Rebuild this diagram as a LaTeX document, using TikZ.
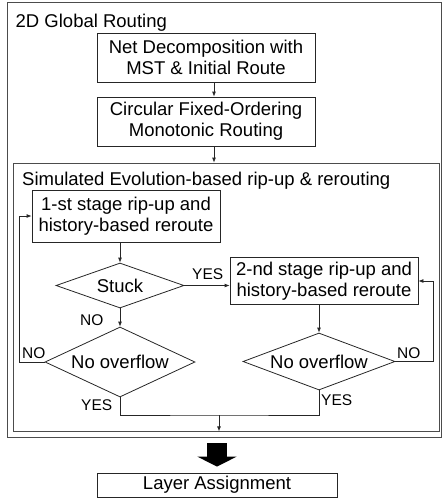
\documentclass[tikz,border=0pt]{standalone}
\usepackage{fontspec}
\setmainfont{Liberation Sans}
\usetikzlibrary{shapes.geometric,arrows.meta}

\tikzset{
  box/.style={draw=black!85, line width=0.8pt, inner sep=0pt, align=center,
    font=\fontsize{18.5}{21}\selectfont},
  decision/.style={diamond, draw=black!85, line width=0.8pt, inner sep=0pt,
    font=\fontsize{18.5}{21}\selectfont},
  frame/.style={draw=black!70, line width=0.8pt, inner sep=0pt},
  heading/.style={inner sep=0pt, anchor=base west, font=\fontsize{18.5}{21}\selectfont},
  lbl/.style={inner sep=0pt, anchor=base west, font=\fontsize{15.5}{18}\selectfont},
  arr/.style={draw=black!85, line width=0.8pt, -{Latex[length=5pt,width=4pt]}},
  line/.style={draw=black!85, line width=0.8pt},
  bigarr/.style={line width=20pt, -{Triangle[length=10pt,width=39pt]}}
}

\begin{document}
\begin{tikzpicture}[x=1pt,y=-1pt]
  \useasboundingbox (0,0) rectangle (442,499);

  % frames
  \node[frame, minimum width=434.5pt, minimum height=435pt] (outer) at (224.25,219.5) {};
  \node[frame, minimum width=426.5pt, minimum height=268pt] (inner) at (226.25,297) {};
  \node[heading] (gtitle) at (15.5,27) {2D Global Routing};
  \node[heading] (stitle) at (22,185) {Simulated Evolution-based rip-up \& rerouting};

  % upper flow
  \node[box, minimum width=218pt, minimum height=49pt] (decomp) at (206,57.5)
    {Net Decomposition with\\MST \& Initial Route};
  \node[box, minimum width=218pt, minimum height=49pt] (circ) at (206,121.5)
    {Circular Fixed-Ordering\\Monotonic Routing};
  \draw[arr] ([xshift=8pt]decomp.south) -- ([xshift=8pt]circ.north);
  \draw[arr] ([xshift=8pt]circ.south) -- ([xshift=8pt]circ.south |- inner.north);

  % rip-up and reroute
  \node[box, minimum width=188pt, minimum height=52pt] (first) at (126,216)
    {1-st stage rip-up and\\history-based reroute};
  \node[box, minimum width=188pt, minimum height=47pt] (second) at (324,281)
    {2-nd stage rip-up and\\history-based reroute};
  \node[decision, aspect=2.84, minimum width=128pt, minimum height=45pt] (stuck) at (120,285.5) {Stuck};
  \node[decision, aspect=2.14, minimum width=150pt, minimum height=70pt] (ovfA) at (120,362) {No overflow};
  \node[decision, aspect=2.67, minimum width=152pt, minimum height=57pt] (ovfB) at (319,361.5) {No overflow};

  \draw[arr] (stuck.north |- first.south) -- (stuck.north);
  \draw[arr] (stuck.east) -- (stuck.east -| second.west);
  \draw[arr] (stuck.south) -- (ovfA.north);
  \draw[arr] (ovfB.north |- second.south) -- (ovfB.north);
  \draw[arr] (ovfA.west) -- ++(-25,0) |- (first.west);
  \draw[arr] (ovfB.east) -- ++(38,0) |- (second.east);

  \coordinate (join) at (219,415);
  \draw[line] (ovfA.south) |- (join) -| (ovfB.south);
  \draw[arr] (join) -- (join |- inner.south);

  \node[lbl] (yesS) at (192,279) {YES};
  \node[lbl] (noS) at (80,325) {NO};
  \node[lbl] (noA) at (22,358) {NO};
  \node[lbl] (yesA) at (81,410) {YES};
  \node[lbl] (noB) at (397,358) {NO};
  \node[lbl] (yesB) at (321,405) {YES};

  % layer assignment
  \node[box, minimum width=240pt, minimum height=24pt] (layer) at (217,485) {Layer Assignment};
  \draw[bigarr] ([yshift=-6pt]layer.north |- outer.south) -- ([yshift=6pt]layer.north);
\end{tikzpicture}
\end{document}
